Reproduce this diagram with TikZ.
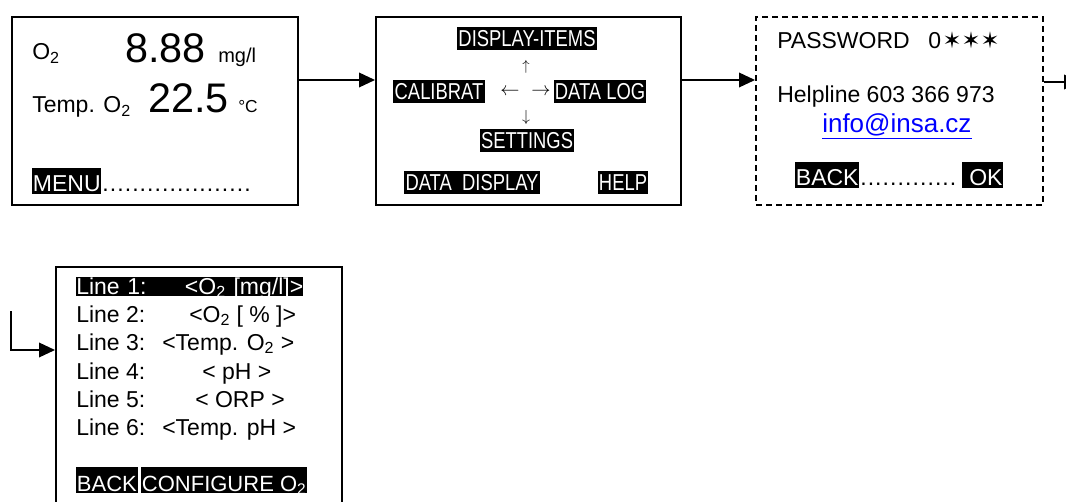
\documentclass[tikz,border=0pt]{standalone}
\usepackage{fontspec}
\setmainfont{Liberation Sans}
\newfontfamily\narrowfont[FakeStretch=0.8]{Liberation Sans}
\newfontfamily\starfont{DejaVu Sans}
\usetikzlibrary{arrows.meta}

\newcommand{\dotrow}[1]{\makebox[#1]{\leaders\hbox to 5.6pt{\hss.\hss}\hfill}}

\tikzset{
  screen/.style={draw, line width=1.5pt, rectangle, anchor=north west, inner sep=0pt},
  txt/.style={anchor=base west, inner sep=0pt, font=\fontsize{17.25}{20}\selectfont},
  key/.style={txt, fill=black, text=white, text height=18pt, text depth=1.5pt, inner xsep=0.5pt},
  navkey/.style={fill=black, text=white, inner xsep=1pt, inner ysep=0pt, minimum height=17.25pt,
    font=\narrowfont\fontsize{17.25}{20}\selectfont},
  navarrow/.style={inner sep=0pt, font=\fontsize{15}{18}\selectfont},
  flow/.style={-{Triangle[length=12pt,width=11pt]}, line width=1.1pt},
}

\begin{document}
\begin{tikzpicture}[x=0.75pt,y=-0.75pt]
\useasboundingbox (0,0) rectangle (1066,502);
\clip (0,0) rectangle (1066,502);

% main display
\node[screen, minimum width=214.5pt, minimum height=141pt] (main) at (11,16) {};
\node[txt] (o2) at (32,60) {O\textsubscript{2}};
\node[txt, font=\fontsize{31}{35}\selectfont] (valo2) at (125,63) {8.88};
\node[txt, font=\fontsize{15}{18}\selectfont] (unito2) at (218,63) {mg/l};
\node[txt] (temp) at (32,113) {Temp. O\textsubscript{2}};
\node[txt, font=\fontsize{31}{35}\selectfont] (valtemp) at (148,113) {22.5};
\node[txt, font=\fontsize{13}{15}\selectfont] (unittemp) at (238,113) {°C};
\node[key] (menu) at (32,192) {MENU};
\node[txt] (menudots) at (menu.base east) {\dotrow{117pt}};

% menu
\node[screen, minimum width=228.75pt, minimum height=141pt] (menu2) at (375,16) {};
\node[navkey] (items) at (527,39) {DISPLAY-ITEMS};
\node[navkey] (calib) at (439,92) {CALIBRAT};
\node[navkey] (datalog) at (600,92) {DATA LOG};
\node[navkey] (settings) at (527,141) {SETTINGS};
\node[navkey] (datadisp) at (472,183) {DATA\ \ DISPLAY};
\node[navkey] (help) at (623,183) {HELP};
\node[navarrow, font=\fontsize{11}{13}\selectfont] (up) at (526,67) {$\uparrow$};
\node[navarrow] (left) at (510,92) {$\leftarrow$};
\node[navarrow] (right) at (541,92) {$\rightarrow$};
\node[navarrow, font=\fontsize{13}{15}\selectfont] (down) at (526,118) {$\downarrow$};

% password
\node[screen, dash pattern=on 4.5pt off 3pt, minimum width=215.25pt, minimum height=141pt] (pass) at (755,16) {};
\node[txt] (pwd) at (777,49) {PASSWORD\hspace{14pt}0\hspace{1pt}{\starfont\fontsize{17}{20}\selectfont ✶✶✶}};
\node[txt] (helpline) at (777,103) {Helpline 603 366 973};
\node[txt, text=blue, font=\fontsize{19.5}{23}\selectfont] (mail) at (822,133) {\underline{info@insa.cz}};
\node[key] (back3) at (795,186) {BACK};
\node[txt] (passdots) at (back3.base east) {\dotrow{76pt}};
\node[key] (ok) at (962,186) {\ OK};

% display items
\node[screen, minimum width=214.5pt, minimum height=195pt] (items4) at (55,266) {};
\node[txt, fill=black, text=white, text height=13pt, text depth=1.5pt, text width=170.25pt] (line1) at (76,294) {Line 1:\hfill<O\textsubscript{2} [mg/l]>};
\node[txt] (line2) at (76,322.5) {Line 2:};
\node[txt] (val2) at (189,322.5) {<O\textsubscript{2} [ \% ]>};
\node[txt] (line3) at (76,350.5) {Line 3:};
\node[txt] (val3) at (162,350.5) {<Temp. O\textsubscript{2} >};
\node[txt] (line4) at (76,379) {Line 4:};
\node[txt] (val4) at (202,379) {< pH >};
\node[txt] (line5) at (76,407) {Line 5:};
\node[txt] (val5) at (195,407) {< ORP >};
\node[txt] (line6) at (76,435) {Line 6:};
\node[txt] (val6) at (162,435) {<Temp. pH >};
\node[key, font=\fontsize{16.5}{20}\selectfont] (back4) at (76,491) {BACK};
\node[key, font=\fontsize{16.5}{20}\selectfont] (config) at (141,491) {CONFIGURE O\textsubscript{2}};

% connectors
\coordinate (row) at (0,80);
\coordinate (exit) at (1080,82);
\coordinate (entry) at (11,311);
\coordinate (entryrow) at (0,350);
\draw[flow] (main.east |- row) -- (menu2.west |- row);
\draw[flow] (menu2.east |- row) -- (pass.west |- row);
\draw[flow] (pass.east |- exit) -- (exit);
\draw[flow] (entry) |- (items4.west |- entryrow);
\end{tikzpicture}
\end{document}
